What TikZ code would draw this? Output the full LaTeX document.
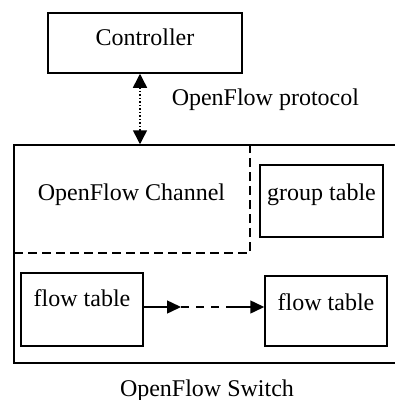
\documentclass[tikz,border=0pt]{standalone}
\usepackage{fontspec}
\setmainfont{Liberation Serif}
\usetikzlibrary{positioning}
\usetikzlibrary{arrows.meta}

\begin{document}
\begin{tikzpicture}[x=1pt,y=-1pt,line width=1.5pt,
    font=\fontsize{24}{28}\selectfont,
    box/.style={shape=rectangle,draw=black,inner sep=0pt,text height=17pt},
    txt/.style={inner sep=0pt},
    tip/.style={-{Triangle[length=14pt, width=13pt]}}]
    \useasboundingbox (0,0) rectangle (395,400);

    \node[box,minimum width=194pt,minimum height=60pt,text depth=13pt] (Ctrl) at (145,43) {Controller};
    \node[shape=rectangle,draw=black,minimum width=386pt,minimum height=218pt] (Switch) at (207,254) {};
    \node[box,minimum width=123pt,minimum height=72pt,text depth=19pt] (Group) at (321.5,201) {group table};
    \node[box,minimum width=122pt,minimum height=73pt,text depth=23pt] (FT1) at (82,309.5) {flow table};
    \node[box,minimum width=122pt,minimum height=70pt,text depth=19pt] (FT2) at (326,311) {flow table};

    \node[txt,anchor=base] (Chan) at (131.5,200) {OpenFlow Channel};
    \node[txt,anchor=base west] (Proto) at (171,105) {OpenFlow protocol};
    \node[txt,anchor=base] (SwName) at (207,396) {OpenFlow Switch};

    % channel part of the switch
    \draw [dash pattern=on 9pt off 5pt] (14,253) -| (250,145);

    \coordinate (ArrX) at (140,0);
    \draw [{Triangle[length=14pt, width=14pt]}-{Triangle[length=14pt, width=14pt]}, dotted] (ArrX |- Ctrl.south) -- (ArrX |- Switch.north);

    \coordinate (M1) at (181,307);
    \coordinate (M2) at (229,307);
    \draw [tip] (FT1.east |- M1) -- (M1);
    \draw [dash pattern=on 8pt off 7pt] (M1) -- (M2);
    \draw [tip] (M2) -- (FT2.west |- M2);
\end{tikzpicture}
\end{document}
